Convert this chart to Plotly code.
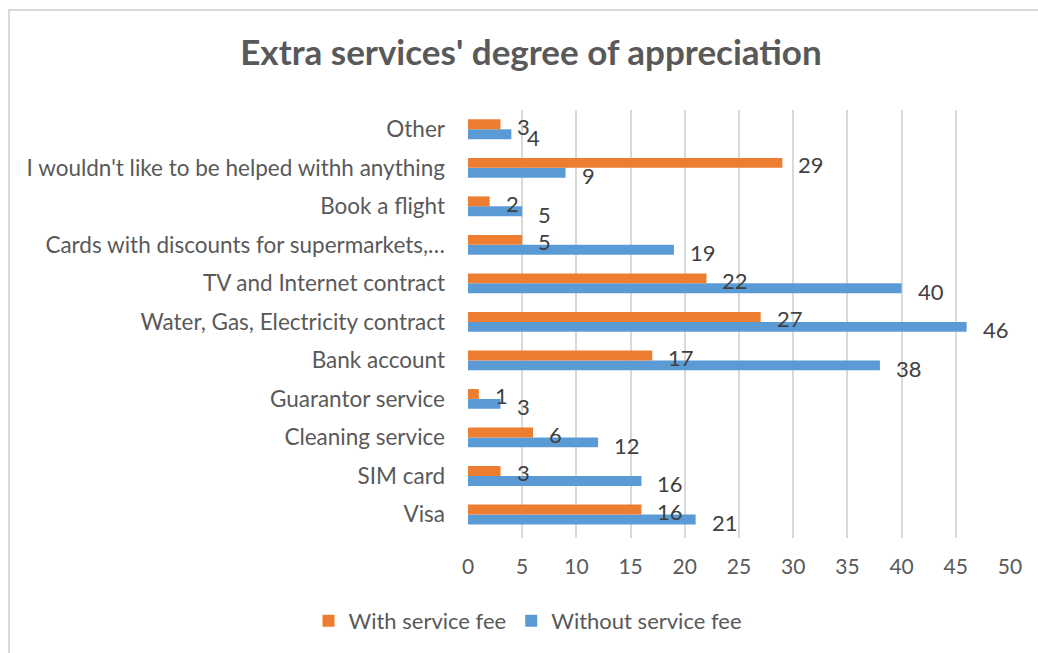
import plotly.graph_objects as go

# Categories listed bottom to top, as they appear on the vertical axis
categories = [
    "Visa",
    "SIM card",
    "Cleaning service",
    "Guarantor service",
    "Bank account",
    "Water, Gas, Electricity contract",
    "TV and Internet contract",
    "Cards with discounts for supermarkets,…",
    "Book a flight",
    "I wouldn't like to be helped withh anything",
    "Other",
]
with_fee = [16, 3, 6, 1, 17, 27, 22, 5, 2, 29, 3]
without_fee = [21, 16, 12, 3, 38, 46, 40, 19, 5, 9, 4]
x_ticks = [0, 5, 10, 15, 20, 25, 30, 35, 40, 45, 50]

ORANGE = "#ED7D31"
BLUE = "#5B9BD5"
FONT = "Lato"

W, H = 1038, 653
ML, MR, MT, MB = 468, 28, 110, 115

fig = go.Figure()
fig.add_trace(go.Bar(
    y=categories, x=without_fee, orientation="h", name="Without service fee",
    marker=dict(color=BLUE, line=dict(width=0)),
))
fig.add_trace(go.Bar(
    y=categories, x=with_fee, orientation="h", name="With service fee",
    marker=dict(color=ORANGE, line=dict(width=0)),
))

# value labels to the right of each bar
annotations = []
for cat, v in zip(categories, with_fee):
    annotations.append(dict(x=v, y=cat, text=str(v), showarrow=False,
                            xanchor="left", yanchor="middle", xshift=14, yshift=3,
                            font=dict(family=FONT, size=22, color="#404040")))
for cat, v in zip(categories, without_fee):
    annotations.append(dict(x=v, y=cat, text=str(v), showarrow=False,
                            xanchor="left", yanchor="middle", xshift=14, yshift=-8,
                            font=dict(family=FONT, size=22, color="#404040")))

pw = W - ML - MR
ph = H - MT - MB
border = dict(
    type="rect", xref="paper", yref="paper",
    x0=(9 - ML) / pw, x1=(1052 - ML) / pw,
    y0=(H - MB - 660) / ph, y1=(H - MB - 10) / ph,
    line=dict(color="#d9d9d9", width=2), fillcolor="rgba(0,0,0,0)", layer="below",
)

fig.update_layout(
    width=W, height=H,
    margin=dict(l=ML, r=MR, t=MT, b=MB, autoexpand=False),
    paper_bgcolor="white", plot_bgcolor="white",
    barmode="group", bargap=0.486, bargroupgap=0,
    title=dict(text="<b>Extra services' degree of appreciation</b>",
               x=531 / W, xanchor="center", y=1 - 53 / H, yanchor="middle",
               font=dict(family=FONT, size=35, color="#595959")),
    xaxis=dict(range=[0, 50], tickvals=x_ticks, showgrid=True,
               gridcolor="#d9d9d9", gridwidth=1.5, zeroline=False,
               showline=False, ticks="", ticklabelstandoff=14,
               tickfont=dict(family=FONT, size=21, color="#595959")),
    yaxis=dict(type="category", showgrid=False, zeroline=False, showline=False,
               ticks="", ticklabelstandoff=22, automargin=False,
               tickfont=dict(family=FONT, size=22.5, color="#595959")),
    legend=dict(orientation="h", traceorder="reversed",
                x=528 / W, xanchor="center", xref="container",
                y=1 - 621 / H, yanchor="middle", yref="container",
                font=dict(family=FONT, size=22, color="#595959")),
    annotations=annotations,
    shapes=[border],
)

fig.write_html("out.html")
